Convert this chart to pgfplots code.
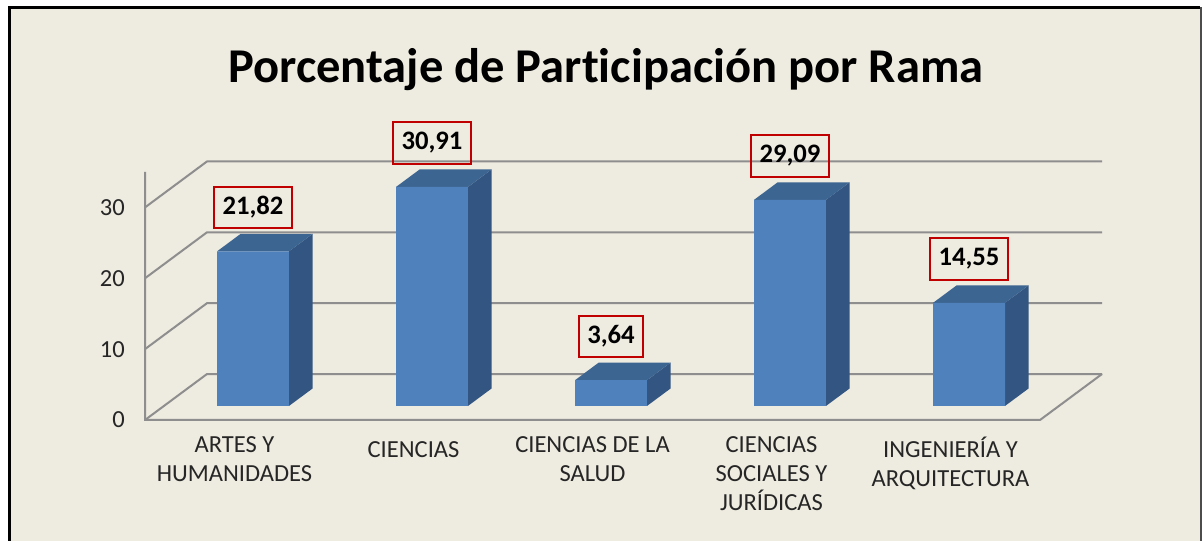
\documentclass[border=0pt]{standalone}
\usepackage{pgfplots}
\pgfplotsset{compat=1.18}
\usepackage{pgfplotstable}
\usepackage{fontspec}
\setmainfont{Carlito}[Ligatures=NoCommon]
\definecolor{bg}{HTML}{EEEBE0}
\definecolor{barfront}{HTML}{4F81BD}
\definecolor{bartop}{HTML}{3D6592}
\definecolor{barside}{HTML}{335581}
\definecolor{gridc}{HTML}{8E8E8E}
\definecolor{lblred}{HTML}{C00000}

\pgfplotstableread{
x v
0 21.82
1 30.91
2 3.64
3 29.09
4 14.55
}\datatable

\begin{document}
\begin{tikzpicture}
\begin{scope}[x=0.75pt,y=0.75pt]
\useasboundingbox (0,0) rectangle (1202,541);
\fill[white] (0,0) rectangle (1202,541);
\fill[bg] (9,0) rectangle (1200,534);
\draw[black, line width=1.6pt] (9.5,0) -- (9.5,533.5) -- (1200,533.5);
\draw[gray!60!black, line width=1.5pt] (1200.5,0) -- (1200.5,534);
\node[font=\bfseries\fontsize{36.4}{40}\selectfont, anchor=base, inner sep=0pt] at (606,458) {Porcentaje de Participación por Rama};
\end{scope}
\begin{axis}[
  at={(108.75pt,90.75pt)}, anchor=south west,
  scale only axis, width=671.25pt, height=186pt,
  xmin=-0.6034, xmax=4.3966, ymin=-1.98, ymax=33.02,
  clip=false,
  axis line style={draw=none},
  major tick length=0pt,
  xtick={-0.1034,0.8966,1.8966,2.8966,3.8966},
  xticklabels={{ARTES Y\\HUMANIDADES},{CIENCIAS},{CIENCIAS DE LA\\SALUD},{CIENCIAS\\SOCIALES Y\\JURÍDICAS},{INGENIERÍA Y\\ARQUITECTURA}},
  xticklabel style={align=center, font=\fontsize{18.4}{21.75}\selectfont, anchor=north, inner sep=0pt, yshift=-12.5pt, execute at begin node=\strut, text=black!85},
  ytick={-1.98,8.02,18.02,28.02},
  yticklabels={0,10,20,30},
  yticklabel style={anchor=east, inner sep=0pt, xshift=-15pt, font=\fontsize{18.4}{20}\selectfont, text=black!85},
]
% floor and walls
\addplot[gridc, line width=1.5pt] coordinates {(-0.6034,33.02) (-0.6034,-1.98) (4.3966,-1.98) (4.743,4.51)};
\addplot[gridc, line width=1.5pt] coordinates {(-0.6034,-1.98) (-0.257,4.51) (4.743,4.51)};
\addplot[gridc, line width=1.5pt] coordinates {(-0.6034,8.02) (-0.257,14.51) (4.743,14.51)};
\addplot[gridc, line width=1.5pt] coordinates {(-0.6034,18.02) (-0.257,24.51) (4.743,24.51)};
\addplot[gridc, line width=1.5pt] coordinates {(-0.6034,28.02) (-0.257,34.51) (4.743,34.51)};
% bar side and top faces (depth 0.1316 x, 2.466 y)
\addplot[fill=barside, draw=none] coordinates {(0.201,0) (0.3326,2.466) (0.3326,24.286) (0.201,21.82)} -- cycle;
\addplot[fill=bartop, draw=none] coordinates {(-0.201,21.82) (-0.0694,24.286) (0.3326,24.286) (0.201,21.82)} -- cycle;
\addplot[fill=barside, draw=none] coordinates {(1.201,0) (1.3326,2.466) (1.3326,33.376) (1.201,30.91)} -- cycle;
\addplot[fill=bartop, draw=none] coordinates {(0.799,30.91) (0.9306,33.376) (1.3326,33.376) (1.201,30.91)} -- cycle;
\addplot[fill=barside, draw=none] coordinates {(2.201,0) (2.3326,2.466) (2.3326,6.106) (2.201,3.64)} -- cycle;
\addplot[fill=bartop, draw=none] coordinates {(1.799,3.64) (1.9306,6.106) (2.3326,6.106) (2.201,3.64)} -- cycle;
\addplot[fill=barside, draw=none] coordinates {(3.201,0) (3.3326,2.466) (3.3326,31.556) (3.201,29.09)} -- cycle;
\addplot[fill=bartop, draw=none] coordinates {(2.799,29.09) (2.9306,31.556) (3.3326,31.556) (3.201,29.09)} -- cycle;
\addplot[fill=barside, draw=none] coordinates {(4.201,0) (4.3326,2.466) (4.3326,17.016) (4.201,14.55)} -- cycle;
\addplot[fill=bartop, draw=none] coordinates {(3.799,14.55) (3.9306,17.016) (4.3326,17.016) (4.201,14.55)} -- cycle;
% front faces with value labels
\addplot[ybar, bar width=0.402, fill=barfront, draw=none,
  nodes near coords={\pgfmathprintnumber[fixed,fixed zerofill,precision=2,use comma,assume math mode=true]{\pgfplotspointmeta}},
  nodes near coords style={anchor=center, yshift=33pt, draw=lblred, line width=1.5pt, inner xsep=6.2pt, minimum height=31pt, font=\bfseries\fontsize{20}{24}\selectfont, text=black, fill=none},
] table[x=x,y=v]{\datatable};
\end{axis}
\end{tikzpicture}
\end{document}
